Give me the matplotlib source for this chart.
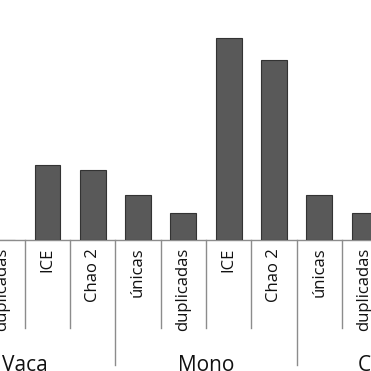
import matplotlib
matplotlib.use("Agg")
import matplotlib.pyplot as plt
from matplotlib.transforms import blended_transform_factory

groups = ["Vaca", "Mono", "Cerdo"]
subcats = ["únicas", "duplicadas", "ICE", "Chao 2"]
vaca = [2, 0, 8.4, 7.9]
mono = [5, 3, 22.8, 20.3]
cerdo = [5, 3, 9.0, 8.5]

values = vaca + mono + cerdo
labels = subcats * len(groups)

fig = plt.figure(figsize=(3.71, 3.71), dpi=100)
ax = fig.add_axes([-0.1772, 0.3544, 1.4652, 0.6456])
x = list(range(len(values)))
ax.bar(x, values, width=0.57, color="#595959", edgecolor="#333333", linewidth=0.8, zorder=3)
ax.set_xlim(-0.5, len(values) - 0.5)
ax.set_ylim(0, 27.1)
for s in ["top", "left", "right"]:
    ax.spines[s].set_visible(False)
ax.spines["bottom"].set_color("#8c8c8c")
ax.spines["bottom"].set_linewidth(1.0)
ax.set_yticks([])
ax.set_xticks(x)
ax.set_xticklabels(labels, rotation=90, fontsize=12, family="Open Sans", color="#111111")
ax.tick_params(axis="x", length=0, pad=6)

tr = blended_transform_factory(ax.transData, ax.transAxes)
for i in range(len(values) + 1):
    xb = i - 0.5
    if i % 4 == 0:
        ax.plot([xb, xb], [0, -0.524], transform=tr, color="#8c8c8c", lw=1.0, clip_on=False)
    else:
        ax.plot([xb, xb], [0, -0.3695], transform=tr, color="#8c8c8c", lw=1.0, clip_on=False)

for g, name in enumerate(groups):
    cx = g * 4 + 1.5
    ax.text(cx, -0.525, name, transform=tr, ha="center", va="center", fontsize=15,
            family="Open Sans", color="#111111")

fig.savefig("out.png", dpi=100)
